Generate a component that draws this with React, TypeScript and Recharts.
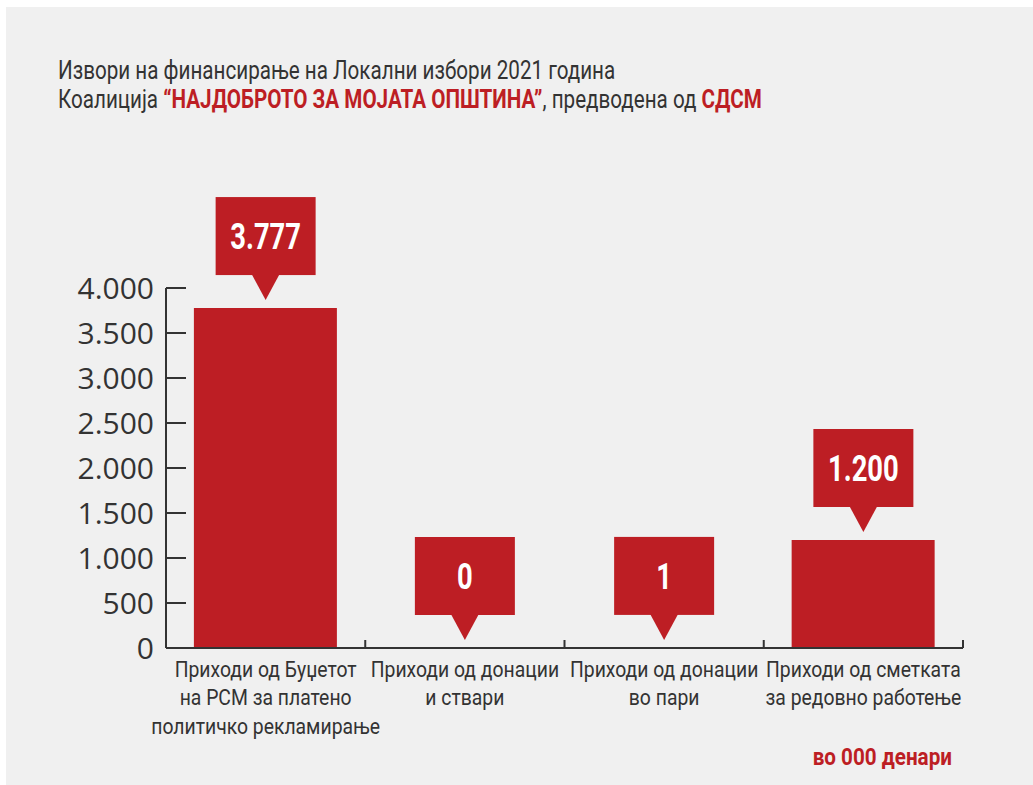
import React from 'react'
import { ComposedChart, Bar, Line, XAxis, YAxis } from 'recharts'

const categories = [
  ['Приходи од Буџетот', 'на РСМ за платено', 'политичко рекламирање'],
  ['Приходи од донации', 'и ствари'],
  ['Приходи од донации', 'во пари'],
  ['Приходи од сметката', 'за редовно работење'],
]
const values = [3777, 0, 1, 1200]
const yTicks = [0, 500, 1000, 1500, 2000, 2500, 3000, 3500, 4000]

const RED = '#bd1e24'
const DARK = '#333333'
const FONT = 'Roboto, sans-serif'

const fmt = (v: number) => String(v).replace(/\B(?=(\d{3})+(?!\d))/g, '.')

const data = categories.map((lines, i) => ({ name: lines.join(' '), value: values[i] }))

function YTick(props: any) {
  const { x, y, payload } = props
  return (
    <g>
      <text x={x} y={y} dy="0.36em" textAnchor="end" fill={DARK} fontSize={30} fontFamily="'Open Sans', 'Noto Sans', sans-serif">
        {fmt(payload.value)}
      </text>
      <line x1={x + 12} x2={x + 32} y1={y} y2={y} stroke={DARK} strokeWidth={2} />
    </g>
  )
}

// label lines plus a small upward tick at the right edge of each category band
function XTick(props: any) {
  const { x, y, index, width, visibleTicksCount } = props
  const lines = categories[index] || []
  const half = width / (visibleTicksCount || categories.length) / 2
  return (
    <g>
      <line x1={x + half} x2={x + half} y1={y} y2={y - 8} stroke={DARK} strokeWidth={2} />
      <g transform={`translate(${x} ${y}) scale(0.88 1)`}>
        <text textAnchor="middle" fill={DARK} fontSize={22} fontFamily={FONT}>
          {lines.map((l, i) => (
            <tspan key={i} x={0} y={29 + i * 28.5}>{l}</tspan>
          ))}
        </text>
      </g>
    </g>
  )
}

// callout box with a pointer, placed above the value point
function Callout(props: any) {
  const { cx, cy, value } = props
  if (cx == null || cy == null) return null
  const tip = cy - 8
  const boxBottom = tip - 25
  const boxTop = boxBottom - 78
  return (
    <g>
      <rect x={cx - 50} y={boxTop} width={100} height={78} fill={RED} />
      <polygon points={`${cx - 14},${boxBottom - 1} ${cx + 14},${boxBottom - 1} ${cx},${tip}`} fill={RED} />
      <g transform={`translate(${cx} ${(boxTop + boxBottom) / 2}) scale(0.74 1)`}>
        <text x={0} y={0} dy="0.36em" textAnchor="middle" fill="#ffffff" fontSize={37} fontWeight="bold" fontFamily={FONT}>
          {fmt(value)}
        </text>
      </g>
    </g>
  )
}

export default function App() {
  return (
    <div style={{ position: 'absolute', left: 6, top: 7, width: 1027, height: 778, background: '#f0f0f0', overflow: 'hidden' }}>
      <div
        style={{
          position: 'absolute', left: 52, top: 49, fontFamily: FONT, fontSize: 25, lineHeight: '29px', color: DARK,
          whiteSpace: 'nowrap', transform: 'scaleX(0.825)', transformOrigin: 'left top',
        }}
      >
        <div>Извори на финансирање на Локални избори 2021 година</div>
        <div>
          Коалиција <span style={{ color: RED, fontWeight: 'bold' }}>“НАЈДОБРОТО ЗА МОЈАТА ОПШТИНА”</span>, предводена од{' '}
          <span style={{ color: RED, fontWeight: 'bold' }}>СДСМ</span>
        </div>
      </div>
      <ComposedChart
        width={1027}
        height={778}
        data={data}
        margin={{ top: 281, right: 70, bottom: 37, left: 60 }}
        barCategoryGap="14%"
      >
        <XAxis
          dataKey="name"
          height={100}
          axisLine={{ stroke: DARK, strokeWidth: 2 }}
          tickLine={false}
          tickSize={0}
          tickMargin={0}
          interval={0}
          tick={<XTick />}
        />
        <YAxis
          width={100}
          domain={[0, 4000]}
          ticks={yTicks}
          interval={0}
          axisLine={{ stroke: DARK, strokeWidth: 2 }}
          tickLine={false}
          tickSize={0}
          tickMargin={12}
          tick={<YTick />}
        />
        <Bar dataKey="value" fill={RED} isAnimationActive={false} />
        <Line dataKey="value" stroke="none" dot={<Callout />} activeDot={false} isAnimationActive={false} />
      </ComposedChart>
      <div
        style={{
          position: 'absolute', right: 81, top: 736, fontFamily: FONT, fontSize: 24, fontWeight: 'bold', color: RED,
          whiteSpace: 'nowrap', transform: 'scaleX(0.86)', transformOrigin: 'right top',
        }}
      >
        во 000 денари
      </div>
    </div>
  )
}
